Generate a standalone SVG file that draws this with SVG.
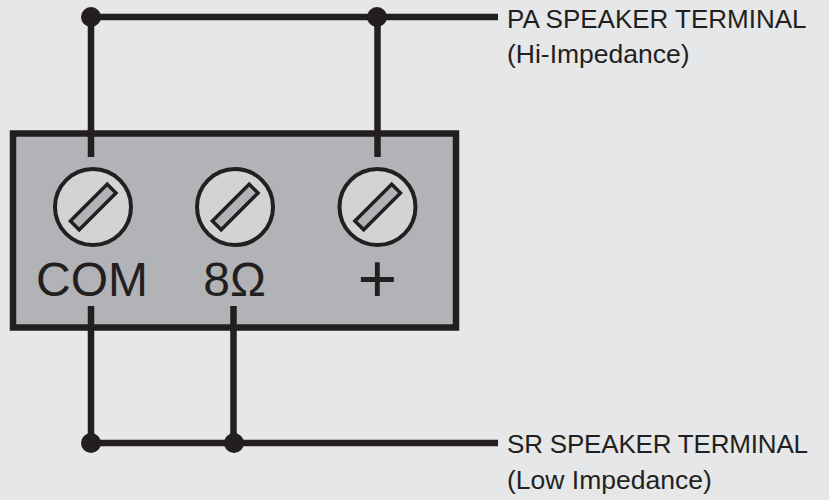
<svg xmlns="http://www.w3.org/2000/svg" width="829" height="500" viewBox="0 0 829 500">
<style>
.w{fill:none;stroke:#231f20;stroke-width:6.500}
.d{fill:#231f20}
.t{font-family:"Liberation Sans",Arial,sans-serif;fill:#231f20}
.l{font-size:26px}
.m{font-size:26.500px}
.b{font-size:48px}
.s{fill:#d1d3d4;stroke:#231f20;stroke-width:4}
.k{fill:#b1b3b6;stroke:#231f20;stroke-width:3.500}
</style>
<rect width="829" height="500" fill="#e6e7e8"/>
<g id="block"><rect x="13" y="133.500" width="443" height="194" fill="#b1b3b6" stroke="#231f20" stroke-width="6.500"/></g>
<g id="connectors">
<path class="w" d="M91 157V17H498M377.500 157V17M91 306V443H498M233.500 306V443"/>
<circle class="d" cx="91" cy="17" r="10"/><circle class="d" cx="377" cy="17" r="10"/><circle class="d" cx="91" cy="443" r="10"/><circle class="d" cx="234" cy="443" r="10"/>
</g>
<g id="screw-com"><circle class="s" cx="93" cy="207" r="38"/><path class="k" d="M107.200 184.200L116 193L79.200 229.800L70.400 221Z"/><text class="t b" x="92" y="296" text-anchor="middle">COM</text></g>
<g id="screw-8"><circle class="s" cx="235" cy="207" r="38"/><path class="k" d="M249.200 184.200L258 193L221.200 229.800L212.400 221Z"/><text class="t b" x="234.500" y="296" text-anchor="middle">8Ω</text></g>
<g id="screw-plus"><circle class="s" cx="377.500" cy="207" r="38"/><path class="k" d="M391.700 184.200L400.500 193L363.700 229.800L354.900 221Z"/><text class="t" font-size="68" x="377.300" y="301.500" text-anchor="middle">+</text></g>
<g id="pa-label"><text class="t l" x="507" y="28">PA SPEAKER TERMINAL</text><text class="t m" x="507" y="63">(Hi-Impedance)</text></g>
<g id="sr-label"><text class="t l" x="507" y="453" textLength="301">SR SPEAKER TERMINAL</text><text class="t m" x="507" y="488.500">(Low Impedance)</text></g>
</svg>
